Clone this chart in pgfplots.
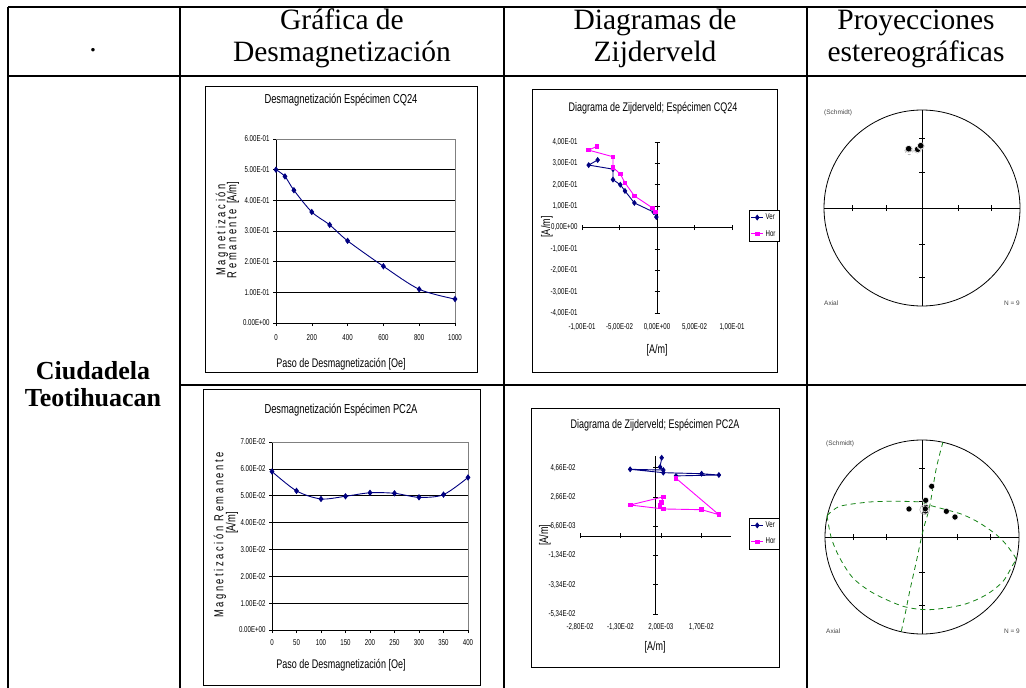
\documentclass[border=0pt]{standalone}
\usepackage{fontspec}
\setmainfont{Liberation Serif}
\newfontfamily\narrow[FakeStretch=0.72]{Liberation Sans}
\newfontfamily\arial{Liberation Sans}
\usepackage{pgfplots}
\pgfplotsset{compat=1.18}
\definecolor{navy}{RGB}{0,0,128}
\definecolor{mag}{RGB}{255,0,255}
\definecolor{netgreen}{RGB}{20,130,20}
\definecolor{labgray}{RGB}{70,70,70}
\pgfplotsset{
 demag/.style={scale only axis, enlargelimits=false, clip=false, anchor=south west, scaled ticks=false,
   axis x line*=bottom, axis y line*=left, axis line style={black,line width=0.6pt},
   tick style={black,line width=0.6pt}, tick align=outside, major tick length=3pt,
   ymajorgrids, grid style={black,line width=0.5pt},
   ticklabel style={font=\narrow\fontsize{8.5}{9}\selectfont}},
 zlab/.style={scale only axis, enlargelimits=false, anchor=south west, scaled ticks=false,
   axis x line*=bottom, axis y line*=left, axis line style={draw=none},
   major tick length=0pt, ticklabel style={font=\narrow\fontsize{8.5}{9}\selectfont}},
 zax/.style={scale only axis, enlargelimits=false, anchor=south west, clip=false, scaled ticks=false,
   axis lines=middle, axis line style={-,black,line width=0.7pt},
   tick style={black,line width=0.7pt}, tick align=center, major tick length=5pt,
   xticklabels={}, yticklabels={},
   legend style={draw=black, line width=0.6pt, font=\narrow\fontsize{8.5}{9}\selectfont,
     inner sep=1.5pt, row sep=5pt, anchor=north west},
   legend cell align=left,
   legend image code/.code={\draw[mark repeat=2,mark phase=2,##1] plot coordinates {(0pt,0pt) (6pt,0pt) (12pt,0pt)};}},
 net/.style={scale only axis, anchor=center, xmin=-1,xmax=1,ymin=-1,ymax=1, hide axis, clip=false},
}
\newcommand\netframe[1]{%
\draw[line width=0.8pt] (axis cs:0,0) circle[radius=#1];
\draw[line width=0.7pt] (axis cs:-1,0) -- (axis cs:1,0);
\draw[line width=0.7pt] (axis cs:0,-1) -- (axis cs:0,1);
\draw[line width=0.7pt] (axis cs:-0.707,0) ++(0pt,-3pt) -- ++(0pt,6pt);
\draw[line width=0.7pt] (axis cs:-0.366,0) ++(0pt,-3pt) -- ++(0pt,6pt);
\draw[line width=0.7pt] (axis cs:0.366,0) ++(0pt,-3pt) -- ++(0pt,6pt);
\draw[line width=0.7pt] (axis cs:0.707,0) ++(0pt,-3pt) -- ++(0pt,6pt);
\draw[line width=0.7pt] (axis cs:0,-0.707) ++(-3pt,0pt) -- ++(6pt,0pt);
\draw[line width=0.7pt] (axis cs:0,-0.366) ++(-3pt,0pt) -- ++(6pt,0pt);
\draw[line width=0.7pt] (axis cs:0,0.366) ++(-3pt,0pt) -- ++(6pt,0pt);
\draw[line width=0.7pt] (axis cs:0,0.707) ++(-3pt,0pt) -- ++(6pt,0pt);}
\begin{document}
\begin{tikzpicture}
\begin{scope}[x=1pt,y=1pt]
\useasboundingbox (0,0) rectangle (1026,-688);
% ---------- table ----------
\begin{scope}[line width=1.5pt]
\draw (8,-7) -- (1026,-7);
\draw (8,-76) -- (1026,-76);
\draw (180,-385) -- (1026,-385);
\draw (8,-7) -- (8,-688);
\draw (180,-7) -- (180,-688);
\draw (504,-7) -- (504,-688);
\draw (807,-7) -- (807,-688);
\end{scope}
\begin{scope}[every node/.style={anchor=base,inner sep=0pt,font=\fontsize{29.5}{31}\selectfont}]
\node at (93,-51) {.};
\node at (342,-30) {Gráfica de};
\node at (342,-61) {Desmagnetización};
\node at (655,-30) {Diagramas de};
\node at (655,-61) {Zijderveld};
\node at (916,-30) {Proyecciones};
\node at (916,-61) {estereográficas};
\end{scope}
\node[anchor=base,inner sep=0pt,font=\bfseries\fontsize{26}{28}\selectfont] at (93,-379) {Ciudadela};
\node[anchor=base,inner sep=0pt,font=\bfseries\fontsize{26}{28}\selectfont] at (93,-406) {Teotihuacan};
% panel frames and texts
\draw[line width=0.8pt] (205,-86) rectangle (477,-372);
\node[font=\narrow\fontsize{13}{14}\selectfont] at (341,-100) {Desmagnetización Espécimen CQ24};
\node[font=\narrow\fontsize{12.5}{14}\selectfont] at (341,-364) {Paso de Desmagnetización [Oe]};
\node[rotate=90,font=\narrow\fontsize{13}{14}\selectfont] at (222,-230) {M a g n e t i z a c i ó n};
\node[rotate=90,font=\narrow\fontsize{13}{14}\selectfont] at (233,-230) {R e m a n e n t e \ [A/m]};
\draw[line width=0.8pt] (532,-89) rectangle (777,-372);
\node[font=\narrow\fontsize{12.5}{14}\selectfont] at (653,-108) {Diagrama de Zijderveld; Espécimen CQ24};
\node[font=\narrow\fontsize{12.5}{14}\selectfont] at (657,-350) {[A/m]};
\node[rotate=90,font=\narrow\fontsize{12.5}{14}\selectfont] at (547,-227) {[A/m]};
\draw[line width=0.8pt] (203,-389) rectangle (480,-685);
\node[font=\narrow\fontsize{13}{14}\selectfont] at (341,-410) {Desmagnetización Espécimen PC2A};
\node[font=\narrow\fontsize{12.5}{14}\selectfont] at (341,-665) {Paso de Desmagnetización [Oe]};
\node[rotate=90,font=\narrow\fontsize{13}{14}\selectfont] at (220,-535) {M a g n e t i z a c i ó n \ R e m a n e n t e};
\node[rotate=90,font=\narrow\fontsize{13}{14}\selectfont] at (232,-523) {[A/m]};
\draw[line width=0.8pt] (531,-408) rectangle (779,-667);
\node[font=\narrow\fontsize{12.5}{14}\selectfont] at (655,-425) {Diagrama de Zijderveld; Espécimen PC2A};
\node[font=\narrow\fontsize{12.5}{14}\selectfont] at (655,-647) {[A/m]};
\node[rotate=90,font=\narrow\fontsize{12.5}{14}\selectfont] at (545,-535) {[A/m]};
\node[anchor=west,font=\arial\fontsize{6.5}{7}\selectfont,text=labgray,inner sep=0pt] at (824,-113) {(Schmidt)};
\node[anchor=west,font=\arial\fontsize{6.5}{7}\selectfont,text=labgray,inner sep=0pt] at (824,-303) {Axial};
\node[anchor=east,font=\arial\fontsize{6.5}{7}\selectfont,text=labgray,inner sep=0pt] at (1020,-303) {N = 9};
\node[anchor=west,font=\arial\fontsize{6.5}{7}\selectfont,text=labgray,inner sep=0pt] at (826,-444) {(Schmidt)};
\node[anchor=west,font=\arial\fontsize{6.5}{7}\selectfont,text=labgray,inner sep=0pt] at (826,-631) {Axial};
\node[anchor=east,font=\arial\fontsize{6.5}{7}\selectfont,text=labgray,inner sep=0pt] at (1020,-631) {N = 9};
\end{scope}

% ---------- panel 1: demag CQ24 ----------
\begin{axis}[demag, at={(276pt,-323pt)}, width=179pt, height=184pt,
  xmin=0, xmax=1000, ymin=0, ymax=0.6,
  xtick={0,200,400,600,800,1000}, xticklabels={0,200,400,600,800,1000},
  ytick={0,0.1,0.2,0.3,0.4,0.5,0.6},
  yticklabels={0.00E+00,1.00E-01,2.00E-01,3.00E-01,4.00E-01,5.00E-01,6.00E-01},
  xticklabel style={yshift=-5pt}]
\draw[gray] (rel axis cs:0,1) -- (rel axis cs:1,1) -- (rel axis cs:1,0);
\addplot[navy, line width=0.9pt, smooth, mark=diamond*, mark size=2.5pt] coordinates {
 (0,0.500) (50,0.478) (100,0.433) (200,0.362) (300,0.320) (400,0.268) (600,0.185) (800,0.110) (1000,0.078)};
\end{axis}

% ---------- panel 2: Zijderveld CQ24 ----------
\begin{axis}[zlab, at={(582pt,-313pt)}, width=150pt, height=171pt,
  xmin=-0.1, xmax=0.1, ymin=-0.4, ymax=0.4,
  xtick={-0.1,-0.05,0,0.05,0.1},
  xticklabels={{-1,00E-01},{-5,00E-02},{0,00E+00},{5,00E-02},{1,00E-01}},
  ytick={-0.4,-0.3,-0.2,-0.1,0,0.1,0.2,0.3,0.4},
  yticklabels={{-4,00E-01},{-3,00E-01},{-2,00E-01},{-1,00E-01},{0,00E+00},{1,00E-01},{2,00E-01},{3,00E-01},{4,00E-01}},
  xticklabel style={yshift=-7pt}, yticklabel style={xshift=-1pt}]
\end{axis}
\begin{axis}[zax, at={(582pt,-313pt)}, width=150pt, height=171pt,
  xmin=-0.1, xmax=0.1, ymin=-0.4, ymax=0.4,
  xtick={-0.1,-0.05,0,0.05,0.1}, ytick={-0.4,-0.3,-0.2,-0.1,0,0.1,0.2,0.3,0.4},
  legend style={at={(1.113,0.602)}}]
\addplot[navy, line width=0.9pt, mark=diamond*, mark size=2.3pt] coordinates {
 (-0.0791,0.316) (-0.0911,0.292) (-0.0587,0.273) (-0.0587,0.224) (-0.0489,0.200)
 (-0.0427,0.171) (-0.0302,0.115) (-0.0044,0.072) (-0.0009,0.049)};
\addlegendentry{Ver}
\addplot[mag, line width=0.9pt, mark=square*, mark size=1.8pt] coordinates {
 (-0.0800,0.380) (-0.0911,0.362) (-0.0587,0.331) (-0.0587,0.281) (-0.0489,0.250)
 (-0.0427,0.209) (-0.0302,0.148) (-0.0062,0.092) (-0.0018,0.072)};
\addlegendentry{Hor}
\end{axis}

% ---------- panel 3: demag PC2A ----------
\begin{axis}[demag, at={(272pt,-630pt)}, width=196pt, height=188pt,
  xmin=0, xmax=400, ymin=0, ymax=0.07,
  xtick={0,50,100,150,200,250,300,350,400}, xticklabels={0,50,100,150,200,250,300,350,400},
  ytick={0,0.01,0.02,0.03,0.04,0.05,0.06,0.07},
  yticklabels={0.00E+00,1.00E-02,2.00E-02,3.00E-02,4.00E-02,5.00E-02,6.00E-02,7.00E-02},
  xticklabel style={yshift=-3pt}]
\draw[gray] (rel axis cs:0,1) -- (rel axis cs:1,1) -- (rel axis cs:1,0);
\addplot[navy, line width=0.9pt, smooth, mark=diamond*, mark size=2.5pt] coordinates {
 (0,0.0590) (50,0.0518) (100,0.0488) (150,0.0498) (200,0.0511) (250,0.0509) (300,0.0494) (350,0.0504) (400,0.0568)};
\end{axis}

% ---------- panel 4: Zijderveld PC2A ----------
\begin{axis}[zlab, at={(580pt,-614pt)}, width=151pt, height=158pt,
  xmin=-0.028, xmax=0.028, ymin=-0.0534, ymax=0.0546,
  xtick={-0.028,-0.013,0.002,0.017},
  xticklabels={{-2,80E-02},{-1,30E-02},{2,00E-03},{1,70E-02}},
  ytick={-0.0534,-0.0334,-0.0134,0.0066,0.0266,0.0466},
  yticklabels={{-5,34E-02},{-3,34E-02},{-1,34E-02},{6,60E-03},{2,66E-02},{4,66E-02}},
  xticklabel style={yshift=-6pt}, yticklabel style={xshift=-1pt}]
\end{axis}
\begin{axis}[zax, at={(580pt,-614pt)}, width=151pt, height=158pt,
  xmin=-0.028, xmax=0.028, ymin=-0.0534, ymax=0.0546,
  xtick={-0.028,-0.013,0.002,0.017}, ytick={-0.0534,-0.0334,-0.0134,0.0066,0.0266,0.0466},
  legend style={at={(1.119,0.608)}}]
\addplot[navy, line width=0.9pt, mark=diamond*, mark size=2.3pt] coordinates {
 (0.0023,0.0534) (0.0017,0.0471) (0.0029,0.0450) (-0.0094,0.0455)
 (0.0029,0.0432) (0.0171,0.0425) (0.0235,0.0416) (0.0076,0.0410)};
\addlegendentry{Ver}
\addplot[mag, line width=0.9pt, mark=square*, mark size=1.8pt] coordinates {
 (0.0023,0.0228) (0.0017,0.0206) (0.0029,0.0267) (-0.0094,0.0211)
 (0.0029,0.0184) (0.0171,0.0179) (0.0235,0.0145) (0.0076,0.0394)};
\addlegendentry{Hor}
\end{axis}

% ---------- panel 5: stereonet CQ24 ----------
\begin{axis}[net, at={(922pt,-208pt)}, width=196pt, height=196pt]
\netframe{98pt}
\addplot[only marks, mark=o, mark size=4.2pt, gray, mark options={dashed}] coordinates {(-0.132,0.585)};
\addplot[only marks, mark=*, mark size=3.3pt, mark options={draw=white, fill=black, line width=0.5pt}] coordinates {
 (-0.140,0.598) (-0.130,0.600) (-0.136,0.605) (-0.048,0.592) (-0.040,0.595) (-0.044,0.599)
 (-0.016,0.628) (-0.010,0.632) (-0.013,0.636)};
\end{axis}

% ---------- panel 6: stereonet PC2A ----------
\begin{axis}[net, at={(922pt,-537pt)}, width=194pt, height=194pt]
\netframe{97pt}
\addplot[netgreen, line width=0.8pt, dash pattern=on 5pt off 4pt, smooth] coordinates {
 (-0.979,0.220) (-0.848,0.316) (-0.539,0.361) (-0.265,0.368) (-0.024,0.361) (0.079,0.327)
 (0.251,0.281) (0.423,0.230) (0.595,0.144) (0.766,0.024) (0.869,-0.079) (0.956,-0.199) (0.972,-0.234)};
\addplot[netgreen, line width=0.8pt, dash pattern=on 5pt off 4pt, smooth] coordinates {
 (-0.979,0.220) (-0.935,-0.010) (-0.848,-0.216) (-0.711,-0.423) (-0.505,-0.577) (-0.196,-0.714)
 (0.079,-0.749) (0.423,-0.698) (0.663,-0.595) (0.835,-0.457) (0.938,-0.285) (0.972,-0.234)};
\addplot[netgreen, line width=0.8pt, dash pattern=on 5pt off 4pt, smooth] coordinates {
 (0.216,0.979) (0.148,0.711) (0.079,0.316) (0.027,0.127) (-0.007,-0.010) (-0.058,-0.251)
 (-0.127,-0.560) (-0.168,-0.766) (-0.213,-0.972)};
\addplot[only marks, mark=o, mark size=5pt, gray!60, line width=0.6pt] coordinates {(0.028,0.281)};
\addplot[only marks, mark=*, mark size=3.1pt, mark options={draw=white, fill=black, line width=0.5pt}] coordinates {
 (0.100,0.523) (0.038,0.378) (0.036,0.268) (0.038,0.299) (-0.134,0.289) (0.251,0.265) (0.340,0.206)
 (0.040,0.305) (0.034,0.290)};
\end{axis}
\end{tikzpicture}
\end{document}
